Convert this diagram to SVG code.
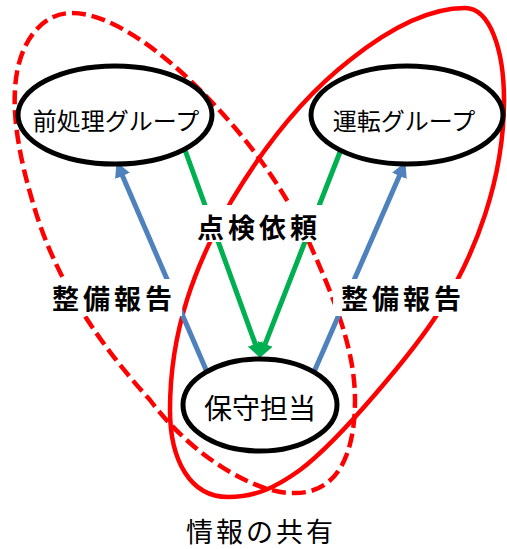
<svg xmlns="http://www.w3.org/2000/svg" width="507" height="549" viewBox="0 0 507 549">
<style>
.loop{fill:none;stroke:#FF0000;stroke-width:4.5}
.dash{stroke-dasharray:14 6}
.blue{stroke:#4F81BD;stroke-width:5;fill:none}
.green{stroke:#00B050;stroke-width:5;fill:none}
.node{fill:#FFFFFF;stroke:#000000;stroke-width:5}
.t{font-family:"Noto Sans CJK JP","Noto Sans",sans-serif;fill:#000000;text-anchor:middle;dominant-baseline:central}
.lbl{font-weight:bold;font-size:27px;letter-spacing:4px}
.bg{fill:#FFFFFF}
</style>
<defs>
<marker id="ab" markerUnits="userSpaceOnUse" markerWidth="16" markerHeight="16" viewBox="0 0 16 16" refX="2" refY="8" orient="auto"><path d="M0,0 L15,8 L0,16 Z" fill="#4F81BD"/></marker>
<marker id="ag" markerUnits="userSpaceOnUse" markerWidth="16" markerHeight="16" viewBox="0 0 16 16" refX="2" refY="8" orient="auto"><path d="M0,0 L15,8 L0,16 Z" fill="#00B050"/></marker>
</defs>
<g id="sharing-loops">
<path class="loop dash" d="M72,13 C110,13 160,50 200,90 C240,130 280,180 308,240 C335,300 355,350 355,400 C355,450 340,493 295,493 C260,495 195,460 150,400 C100,345 55,280 33,203 C20,160 13,120 15,90 C17,45 40,13 72,13 Z"/>
<path class="loop" d="M465,8 C490,8 504,50 504,100 C504,180 475,255 440,310 C415,350 340,440 300,470 C275,488 255,497 228,497 C190,497 170,460 170,410 C170,330 195,265 232,200 C265,145 305,95 350,60 C390,28 430,8 465,8 Z"/>
</g>
<g id="connectors">
<line class="blue" x1="207" y1="372" x2="121.7" y2="174" marker-end="url(#ab)"/>
<line class="blue" x1="314" y1="372" x2="400.2" y2="174" marker-end="url(#ab)"/>
<line class="green" x1="185" y1="150" x2="255.9" y2="345.7" marker-end="url(#ag)"/>
<line class="green" x1="340" y1="152" x2="264.4" y2="345.8" marker-end="url(#ag)"/>
</g>
<g id="label-inspection">
<rect class="bg" x="190" y="205" width="134" height="37"/>
<text class="t lbl" x="259" y="226">点検依頼</text>
</g>
<g id="label-report-left">
<rect class="bg" x="45" y="279" width="137" height="37"/>
<text class="t lbl" x="114" y="297">整備報告</text>
</g>
<g id="label-report-right">
<rect class="bg" x="333" y="279" width="135" height="37"/>
<text class="t lbl" x="403" y="297">整備報告</text>
</g>
<g id="node-pretreatment">
<ellipse class="node" cx="115" cy="115" rx="97" ry="49"/>
<text class="t" x="116" y="119" font-size="24">前処理グループ</text>
</g>
<g id="node-operation">
<ellipse class="node" cx="407" cy="115" rx="96" ry="49"/>
<text class="t" x="404" y="119" font-size="24">運転グループ</text>
</g>
<g id="node-maintenance">
<ellipse class="node" cx="260" cy="405" rx="77" ry="46"/>
<text class="t" x="260" y="407" font-size="28">保守担当</text>
</g>
<g id="caption">
<text class="t" x="261" y="530" font-size="27" letter-spacing="3">情報の共有</text>
</g>
</svg>
